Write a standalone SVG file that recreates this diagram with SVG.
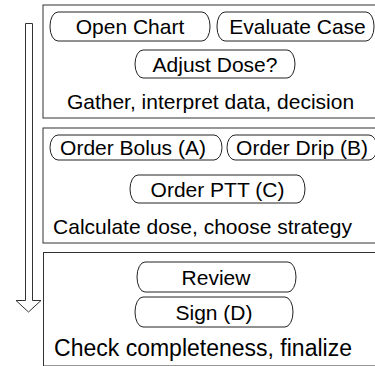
<svg xmlns="http://www.w3.org/2000/svg" width="375" height="366" viewBox="0 0 375 366">
  <style>
    .panel { fill: #ffffff; stroke: #333333; stroke-width: 1; }
    .pill { fill: #ffffff; stroke: #222222; stroke-width: 1; }
    .lbl { font-family: "Liberation Sans", Arial, sans-serif; font-size: 21px; fill: #000000; text-anchor: middle; }
    .cap-lg { font-size: 23px; }
    .flow { fill: #ffffff; stroke: #333333; stroke-width: 1; }
  </style>
  <rect width="375" height="366" fill="#ffffff"/>

  <!-- downward flow arrow -->
  <g id="connectors">
    <polygon class="flow" points="25.5,23.5 32.5,23.5 32.5,300.5 41,300.5 28.5,312 16,300.5 25.5,300.5"/>
  </g>

  <!-- stage 1 -->
  <g id="stage1">
    <rect class="panel" x="43" y="5" width="345" height="113"/>
    <text class="lbl" x="210.5" y="108.5">Gather, interpret data, decision</text>
  </g>
  <g id="open-chart">
    <rect class="pill" x="50" y="12" width="160" height="29" rx="8" ry="14"/>
    <text class="lbl" x="130" y="34">Open Chart</text>
  </g>
  <g id="evaluate-case">
    <rect class="pill" x="217" y="12" width="157" height="29" rx="8" ry="14"/>
    <text class="lbl" x="297.5" y="34">Evaluate Case</text>
  </g>
  <g id="adjust-dose">
    <rect class="pill" x="135" y="50" width="160" height="28" rx="8" ry="14"/>
    <text class="lbl" x="215" y="71.5">Adjust Dose?</text>
  </g>

  <!-- stage 2 -->
  <g id="stage2">
    <rect class="panel" x="43" y="128" width="345" height="115"/>
    <text class="lbl" x="202.5" y="233.5">Calculate dose, choose strategy</text>
  </g>
  <g id="order-bolus">
    <rect class="pill" x="50" y="135" width="172" height="25" rx="8" ry="12.5"/>
    <text class="lbl" x="133" y="155">Order Bolus (A)</text>
  </g>
  <g id="order-drip">
    <rect class="pill" x="227" y="135" width="150" height="25" rx="8" ry="12.5"/>
    <text class="lbl" x="302" y="155">Order Drip (B)</text>
  </g>
  <g id="order-ptt">
    <rect class="pill" x="130" y="175" width="175" height="28" rx="8" ry="14"/>
    <text class="lbl" x="217.5" y="196.5">Order PTT (C)</text>
  </g>

  <!-- stage 3 -->
  <g id="stage3">
    <rect class="panel" x="43.5" y="252.5" width="345" height="113.5"/>
    <text class="lbl cap-lg" x="203" y="355.5">Check completeness, finalize</text>
  </g>
  <g id="review">
    <rect class="pill" x="137" y="262" width="159" height="30" rx="8" ry="15"/>
    <text class="lbl" x="216" y="284.5">Review</text>
  </g>
  <g id="sign">
    <rect class="pill" x="135" y="297" width="158" height="30" rx="8" ry="15"/>
    <text class="lbl" x="214" y="319.5">Sign (D)</text>
  </g>
</svg>
